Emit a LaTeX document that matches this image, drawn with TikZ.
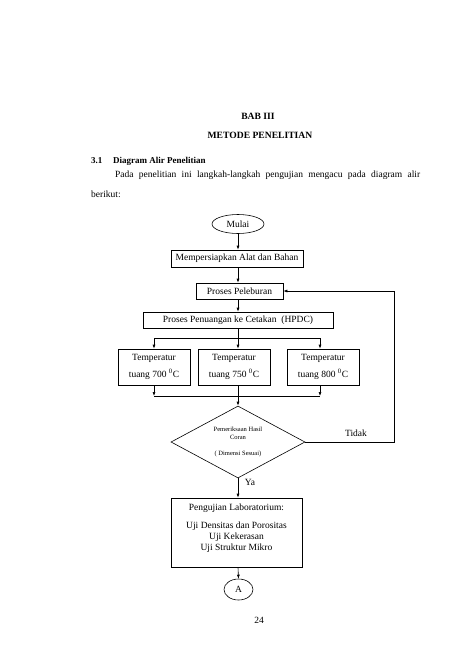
\documentclass[tikz,border=0pt]{standalone}
\usepackage{fontspec}
\setmainfont{Liberation Serif}
\usetikzlibrary{shapes.geometric,arrows.meta}
\begin{document}
\begin{tikzpicture}[x=1pt,y=-1pt,
  font=\fontsize{9.5}{11}\selectfont,
  box/.style={draw,line width=0.6pt,inner sep=1pt,align=center},
  plain/.style={inner sep=0pt},
  arr/.style={-{Latex[length=4pt,width=3pt]},line width=0.6pt},
  ln/.style={line width=0.6pt}]
\useasboundingbox (0,0) rectangle (474,670);
% page text
\node[plain,font=\fontsize{9.6}{11}\selectfont\bfseries] (bab) at (258,116) {BAB III};
\node[plain,font=\fontsize{9.6}{11}\selectfont\bfseries] (judul) at (260,135) {METODE PENELITIAN};
\node[plain,anchor=west,font=\fontsize{9}{11}\selectfont\bfseries] (sub) at (91,161) {3.1};
\node[plain,anchor=west,font=\fontsize{9}{11}\selectfont\bfseries] (subt) at (113,161) {Diagram Alir Penelitian};
\node[plain,anchor=north west] (par) at (91,171) {\begin{minipage}{329pt}\fontsize{9.5}{20}\selectfont\setlength{\parindent}{24pt}Pada penelitian ini langkah-langkah pengujian mengacu pada diagram alir berikut:\end{minipage}};
\node[plain] (hal) at (259,620) {24};
% flowchart
\node[draw,ellipse,line width=0.6pt,minimum width=52pt,minimum height=19pt,inner sep=0pt] (mulai) at (238,224) {Mulai};
\node[box,minimum width=132pt,minimum height=17pt] (prep) at (237,258.5) {Mempersiapkan Alat dan Bahan};
\node[box,minimum width=87pt,minimum height=16pt] (lebur) at (239.5,291) {Proses Peleburan};
\node[box,minimum width=190pt,minimum height=16pt] (tuang) at (238,320) {Proses Penuangan ke Cetakan \ (HPDC)};
\node[box,minimum width=72pt,minimum height=36pt,font=\fontsize{9.5}{17}\selectfont] (t1) at (154,367) {Temperatur\\tuang 700 \textsuperscript{0}C};
\node[box,minimum width=72pt,minimum height=36pt,font=\fontsize{9.5}{17}\selectfont] (t2) at (234,367) {Temperatur\\tuang 750 \textsuperscript{0}C};
\node[box,minimum width=72pt,minimum height=36pt,font=\fontsize{9.5}{17}\selectfont] (t3) at (323,367) {Temperatur\\tuang 800 \textsuperscript{0}C};
\node[draw,diamond,line width=0.6pt,shape aspect=1.86,minimum width=134pt,minimum height=72pt,inner sep=0pt,align=center,font=\fontsize{6.5}{8}\selectfont] (dia) at (238,442) {Pemeriksaan Hasil\\Coran\\[8pt]( Dimensi Sesuai)};
\node[box,minimum width=131pt,minimum height=69pt] (uji) at (236.5,532.5) {};
\node[plain,align=center,font=\fontsize{9.5}{11}\selectfont] (ujitxt) at (236.5,528) {Pengujian Laboratorium:\\[7pt]Uji Densitas dan Porositas\\Uji Kekerasan\\Uji Struktur Mikro};
\node[draw,ellipse,line width=0.6pt,minimum width=29pt,minimum height=21pt,inner sep=0pt] (A) at (238.5,589.5) {A};
\node[plain] (tidak) at (356,433) {Tidak};
\node[plain] (ya) at (250,482) {Ya};
% connectors
\coordinate (s1) at (154,338);
\coordinate (s3) at (320,338);
\coordinate (b1) at (154,396);
\coordinate (b3) at (320,396);
\coordinate (rt) at (394,442);
\draw[arr] (mulai) -- (mulai.south |- prep.north);
\draw[arr] (prep.south -| mulai.south) -- (mulai.south |- lebur.north);
\draw[arr] (lebur.south -| mulai.south) -- (mulai.south |- tuang.north);
\draw[ln] (s1) -- (s3);
\draw[arr] (tuang.south) -- (tuang.south |- t2.north);
\draw[arr] (s1) -- (t1.north);
\draw[arr] (s3) -- (s3 |- t3.north);
\draw[arr] (t1.south) -- (b1);
\draw[arr] (b3 |- t3.south) -- (b3);
\draw[ln] (b1) -- (b3);
\draw[arr] (tuang.south |- t2.south) -- (dia.north);
\draw[arr] (dia.east) -- (rt) |- (lebur.east);
\draw[arr] (dia.south) -- (dia.south |- uji.north);
\draw[arr] (dia.south |- uji.south) -- (A.north);
\end{tikzpicture}
\end{document}
